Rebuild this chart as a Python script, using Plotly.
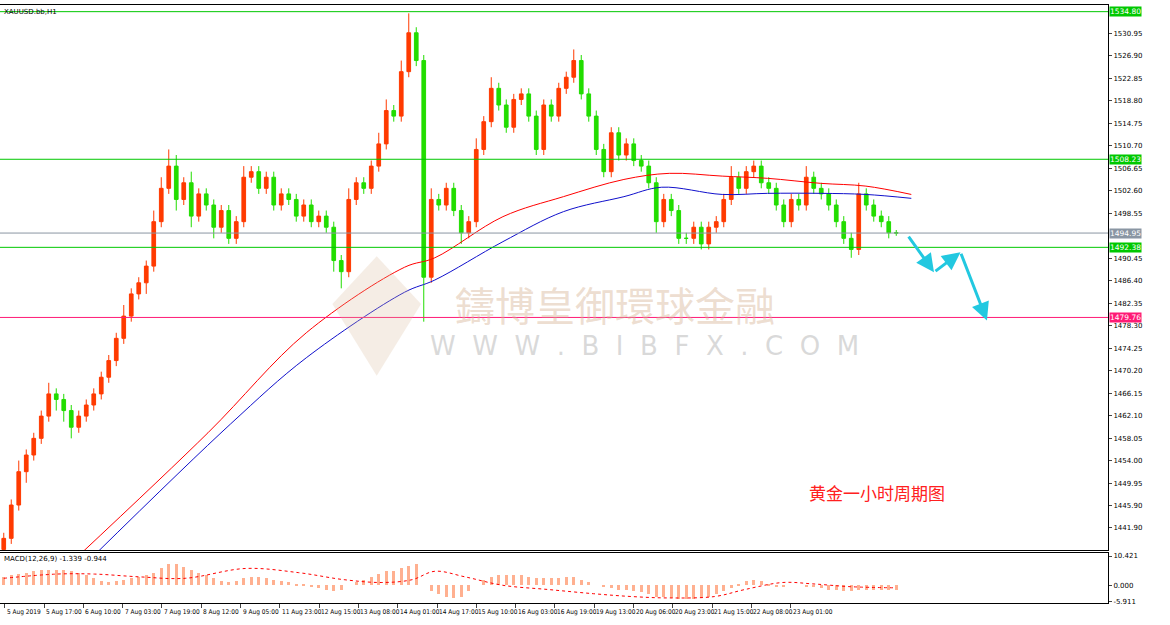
import plotly.graph_objects as go

closes = [1440,1446,1452,1455,1458,1462,1466,1465,1463,1460,1462,
          1464,1466,1469,1472,1476,1480,1484,1486,1489,1497,
          1503,1507,1501,1504,1498,1502,1500,1496,1499,1494,
          1497,1505,1506,1503,1505,1500,1502,1501,1498,1500,
          1497,1498,1496,1490,1488,1501,1504,1503,1507,1511,
          1517,1516,1524,1531,1526,
          1487,1501,1500,1503,1499,
          1495,1497,1510,1515,1521,1518,1514,1519,1520,1516,
          1510,1518,1516,1521,1523,1526,1520,1516,1510,1506,
          1513,1509,1511,1508,1507,1504,1497,1501,1499,1494,
          1494,1496,1493,1496,1497,1501,1505,1503,1506,1507,
          1504,1503,1500,1497,1501,1500,1505,1503,1502,1500,
          1497,1494,1492,1502,1500,1498,1497,1495,1494.95]
upper_wick = [1,1,2,1,1,1,2,1,1,1,1, 1,1,1,1,1,2,1,1,1,2, 2,3,2,1,2,1,1,1,1,1,
              1,2,1,1,1,1,1,1,1,1, 1,1,1,1,1,2,1,1,1,2, 2,1,2,3.5,1,
              1,2,1,1,1, 1,1,2,1,2,1,1,1,1,1, 1,1,1,1,1,2,1,1,1,1,
              1,1,1,1,1,1,1,1,1,1, 1,1,1,1,1,1,2,1,1,1, 1,1,1,1,1,1,2,1,1,1,
              1,1,1,2,1,1,1,1,0.5]
lower_wick = [2,1,1,2,1,1,1,2,2,2,1, 1,1,1,1,1,1,1,1,2,1, 1,1,2,1,2,1,1,2,1,1,
              1,1,1,1,1,1,1,1,1,1, 1,1,1,2,3,1,1,1,1,1, 1,1,1,1,1,
              8,1,1,1,1, 2,1,1,1,1,1,1,1,1,1, 1,1,1,1,1,1,1,1,1,1,
              1,1,1,1,1,1,2,1,1,1, 1,1,1,1,1,1,1,1,1,1, 1,1,1,1,1,1,1,1,1,1,
              1,1,1.5,1,1,1,1,1,0.5]
macd_hist = [3,3.5,4,4.5,5,5.5,5.5,5.5,5.5,5,4.5,
             3.5,2.5,1.5,1,1.5,2,2.5,3,3.5,4.5,
             6,7.5,7.5,6.5,5.5,4.5,3.5,2.5,1.5,1,
             1.5,2.5,3,3,2.5,2,1.5,1,0.5,0.2,
             -0.5,-1,-1.5,-2,-1.5,0,1,2,3,4,
             5,5,6,7,7.5,
             0,-2,-3,-4,-4.5,
             -4,-2,0,2,3,3.5,3.5,3.5,3.5,3,
             2.5,2.5,2.5,2.5,3,3,2,1,0,-0.5,
             -1,-1.5,-1.5,-2,-2.5,-3,-4,-4,-4.5,-5,
             -5,-5,-4.5,-4,-3,-2,-1,0.5,1.5,2,
             1.5,0.5,-0.5,-0.5,0,0,-0.5,-0.5,-1,-1.5,
             -1.5,-2,-2,-1.5,-1.5,-1.5,-1.5,-1.5,-1.5]
sig_x = [0,7,12,18,24,32,39,45,50,54,57,61,66,72,78,83,88,94,98,103,107,112,118]
sig_y = [2.5,4,4,3,2.5,6,4.5,2,1,2,5,3,0,-1.5,-3,-4,-4.5,-4,-1.5,1,0.5,-0.5,-0.9]
ma_red_x = [10,27,40,53,57,66,74,82,88,95,101,108,114,120]
ma_red_y = [1437,1459,1477,1488.8,1490.5,1497.9,1501.5,1504.6,1505.7,1505.2,1504.8,1503.9,1503.4,1501.9]
ma_blue_x = [12,30,40,53,57,66,74,82,87,95,101,108,114,120]
ma_blue_y = [1437,1460.6,1472.5,1484.3,1486.5,1493.4,1498.8,1501.5,1503.2,1501.9,1502.1,1502.1,1501.9,1501.2]
x_labels = ["5 Aug 2019","5 Aug 17:00","6 Aug 10:00","7 Aug 03:00","7 Aug 19:00","8 Aug 12:00",
            "9 Aug 05:00","11 Aug 23:00","12 Aug 15:00","13 Aug 08:00","14 Aug 01:00","14 Aug 17:00",
            "15 Aug 10:00","16 Aug 03:00","16 Aug 19:00","19 Aug 13:00","20 Aug 06:00","20 Aug 23:00",
            "21 Aug 15:00","22 Aug 08:00","23 Aug 01:00"]
y_ticks = [1441.90,1445.90,1449.95,1454.00,1458.05,1462.10,1466.15,1470.20,1474.25,1478.30,1482.35,1486.40,
           1490.45,1498.55,1502.60,1506.65,1510.70,1514.75,1518.80,1522.85,1526.90,1530.95]
levels = [(1534.80,"#00c800"),(1508.23,"#00c800"),(1492.38,"#00c800"),(1494.95,"#8a96a3"),(1479.76,"#ff1a75")]
arrow_y = [1494.6,1487.9,1491.5,1479.2]

n = len(closes)
ppb = 900 / n                       # pixels per bar
idx = list(range(n))
opens = [closes[0]-2] + closes[:-1]
highs = [max(o,c)+w for o,c,w in zip(opens,closes,upper_wick)]
lows = [min(o,c)-w for o,c,w in zip(opens,closes,lower_wick)]
sc = n / 119.0
arrow_x = [v*sc for v in [119.5,123,126.5,130]]

fig = go.Figure()
fig.add_trace(go.Candlestick(x=idx,open=opens,high=highs,low=lows,close=closes,
    increasing=dict(line=dict(color="#ff3a00",width=1),fillcolor="#ff3a00"),
    decreasing=dict(line=dict(color="#22dd00",width=1),fillcolor="#22dd00"),
    whiskerwidth=0,xaxis="x",yaxis="y",showlegend=False))
fig.add_trace(go.Scatter(x=[v*sc for v in ma_red_x],y=ma_red_y,mode="lines",line=dict(color="#ff0000",width=1,shape="spline"),xaxis="x",yaxis="y",showlegend=False))
fig.add_trace(go.Scatter(x=[v*sc for v in ma_blue_x],y=ma_blue_y,mode="lines",line=dict(color="#1010cc",width=1,shape="spline"),xaxis="x",yaxis="y",showlegend=False))
fig.add_trace(go.Bar(x=idx,y=macd_hist,marker=dict(color="#ffb090",line=dict(width=0)),width=0.4,xaxis="x2",yaxis="y2",showlegend=False))
fig.add_trace(go.Scatter(x=[v*sc for v in sig_x],y=sig_y,mode="lines",line=dict(color="#ff0000",width=1,dash="dot",shape="spline"),xaxis="x2",yaxis="y2",showlegend=False))

for v,c in levels:
    fig.add_shape(type="line",xref="paper",x0=0,x1=1,yref="y",y0=v,y1=v,line=dict(color=c,width=1))
    fig.add_annotation(xref="paper",x=1.001,yref="y",y=v,text=f"{v:.2f}",showarrow=False,xanchor="left",
                       bgcolor=c,font=dict(size=7.5,color="white",family="DejaVu Sans"),borderpad=0)

for i in range(len(arrow_x)-1):
    fig.add_annotation(x=arrow_x[i+1],y=arrow_y[i+1],ax=arrow_x[i],ay=arrow_y[i],axref="x",ayref="y",xref="x",yref="y",
                       showarrow=True,arrowhead=2,arrowsize=1.2,arrowwidth=3,arrowcolor="#22c8e0",text="")

fig.add_annotation(xref="paper",yref="paper",x=0.555,y=0.5,text="鑄博皇御環球金融",showarrow=False,
                   font=dict(size=40,color="rgba(215,180,150,0.45)",family="Noto Sans CJK TC"))
fig.add_annotation(xref="paper",yref="paper",x=0.582,y=0.43,text="W  W  W  .  B  I  B  F  X  .  C  O  M",showarrow=False,
                   font=dict(size=26,color="rgba(180,180,180,0.5)",family="DejaVu Sans"))
fig.add_shape(type="path",xref="paper",yref="paper",path="M 0.30 0.50 L 0.34 0.58 L 0.38 0.50 L 0.34 0.38 Z",
              fillcolor="rgba(215,185,150,0.25)",line=dict(width=0))
fig.add_annotation(xref="paper",yref="paper",x=0.855,y=0.16,text="黄金一小时周期图",showarrow=False,
                   font=dict(size=17,color="#ff2020",family="Noto Sans CJK SC"))
fig.add_annotation(xref="paper",yref="paper",x=0.002,y=0.999,text="XAUUSD.bb,H1",showarrow=False,xanchor="left",yanchor="top",
                   font=dict(size=7,color="black",family="DejaVu Sans"))
fig.add_annotation(xref="paper",yref="paper",x=0.002,y=0.083,text="MACD(12,26,9) -1.339 -0.944",showarrow=False,xanchor="left",yanchor="top",
                   font=dict(size=7,color="black",family="DejaVu Sans"))

tickvals = [(1 + i*39.3)/ppb for i in range(len(x_labels))]
for tv, lab in zip(tickvals, x_labels):
    fig.add_annotation(xref="x2",yref="paper",x=tv,y=-0.006,text=lab,showarrow=False,xanchor="left",yanchor="top",
                       xshift=1,font=dict(size=6.5,color="black",family="Liberation Sans Narrow, Arial Narrow, DejaVu Sans Condensed"),borderpad=0)
xr = [-0.5, -0.5 + 1108/ppb]
tf = dict(size=7,family="DejaVu Sans",color="black")
fig.update_layout(width=1170,height=625,margin=dict(l=0,r=62,t=5,b=22),plot_bgcolor="white",paper_bgcolor="white",
    bargap=0,
    xaxis=dict(domain=[0,1],range=xr,anchor="y",showticklabels=False,showgrid=False,rangeslider=dict(visible=False),
               showline=True,mirror=True,linecolor="black",zeroline=False,automargin=False),
    yaxis=dict(domain=[0.0886,1],range=[1437.9,1536.0],side="right",tickvals=y_ticks,ticktext=[f"{v:.2f}" for v in y_ticks],
               ticks="outside",ticklen=3,showgrid=False,showline=True,mirror=True,linecolor="black",zeroline=False,
               tickfont=tf,automargin=False),
    xaxis2=dict(domain=[0,1],range=xr,anchor="y2",tickvals=tickvals,ticktext=[""]*len(tickvals),ticks="outside",ticklen=4,
                showgrid=False,showline=True,mirror=True,linecolor="black",zeroline=False,automargin=False),
    yaxis2=dict(domain=[0,0.0836],range=[-6.3,11.5],side="right",tickvals=[10.421,0,-5.911],ticktext=["10.421","0.000","-5.911"],
                ticks="outside",ticklen=3,showgrid=False,showline=True,mirror=True,linecolor="black",zeroline=False,
                tickfont=tf,automargin=False))
fig.write_html("out.html", config={"displayModeBar": False}, post_script="document.body.style.margin='0';")
